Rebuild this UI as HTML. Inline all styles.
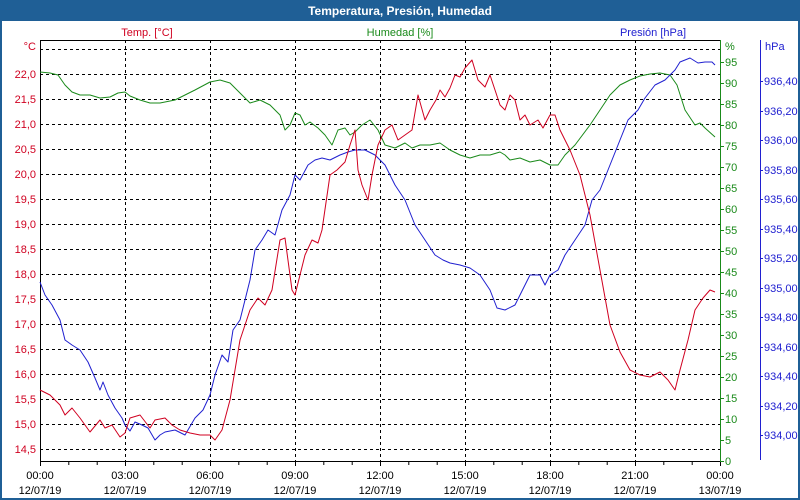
<!DOCTYPE html>
<html><head><meta charset="utf-8"><style>
html,body{margin:0;padding:0;background:#fff}
svg{display:block;font-family:"Liberation Sans","DejaVu Sans",sans-serif}
</style></head><body>
<svg width="800" height="500" xmlns="http://www.w3.org/2000/svg">
<rect x="0" y="0" width="800" height="500" fill="#1f5f96"/>
<rect x="2" y="21" width="796" height="477" fill="#fff"/>
<text x="400" y="15" fill="#fff" font-size="12" font-weight="bold" text-anchor="middle">Temperatura, Presión, Humedad</text>
<text x="147" y="36" fill="#d00020" font-size="11" text-anchor="middle">Temp. [°C]</text>
<text x="400" y="36" fill="#1a8a1a" font-size="11" text-anchor="middle">Humedad [%]</text>
<text x="653" y="36" fill="#2020d0" font-size="11" text-anchor="middle">Presión [hPa]</text>
<g stroke="#000" stroke-dasharray="3,3" stroke-width="1">
<line x1="40" x2="720" y1="49.5" y2="49.5"/><line x1="40" x2="720" y1="74.5" y2="74.5"/><line x1="40" x2="720" y1="99.5" y2="99.5"/><line x1="40" x2="720" y1="124.5" y2="124.5"/><line x1="40" x2="720" y1="149.5" y2="149.5"/><line x1="40" x2="720" y1="174.5" y2="174.5"/><line x1="40" x2="720" y1="199.5" y2="199.5"/><line x1="40" x2="720" y1="224.5" y2="224.5"/><line x1="40" x2="720" y1="249.5" y2="249.5"/><line x1="40" x2="720" y1="274.5" y2="274.5"/><line x1="40" x2="720" y1="299.5" y2="299.5"/><line x1="40" x2="720" y1="324.5" y2="324.5"/><line x1="40" x2="720" y1="349.5" y2="349.5"/><line x1="40" x2="720" y1="374.5" y2="374.5"/><line x1="40" x2="720" y1="399.5" y2="399.5"/><line x1="40" x2="720" y1="424.5" y2="424.5"/><line x1="40" x2="720" y1="449.5" y2="449.5"/>
<line x1="125.5" x2="125.5" y1="40" y2="461"/><line x1="210.5" x2="210.5" y1="40" y2="461"/><line x1="295.5" x2="295.5" y1="40" y2="461"/><line x1="380.5" x2="380.5" y1="40" y2="461"/><line x1="465.5" x2="465.5" y1="40" y2="461"/><line x1="550.5" x2="550.5" y1="40" y2="461"/><line x1="635.5" x2="635.5" y1="40" y2="461"/>
</g>
<g stroke="#000"><line x1="40.5" y1="40" x2="40.5" y2="461"/><line x1="40" y1="40.5" x2="720" y2="40.5"/><line x1="40" y1="461.5" x2="720" y2="461.5"/>
<path d="M40.5 461v5M68.8 461v4M97.2 461v4M125.5 461v5M153.8 461v4M182.2 461v4M210.5 461v5M238.8 461v4M267.2 461v4M295.5 461v5M323.8 461v4M352.2 461v4M380.5 461v5M408.8 461v4M437.2 461v4M465.5 461v5M493.8 461v4M522.2 461v4M550.5 461v5M578.8 461v4M607.2 461v4M635.5 461v5M663.8 461v4M692.2 461v4M720.5 461v5"/></g>
<line x1="720.5" y1="40" x2="720.5" y2="462" stroke="#1a8a1a"/>
<path stroke="#1a8a1a" d="M720 461.5h4M720 440.5h4M720 419.5h4M720 398.5h4M720 377.5h4M720 356.5h4M720 335.5h4M720 314.5h4M720 293.5h4M720 272.5h4M720 251.5h4M720 230.5h4M720 209.5h4M720 188.5h4M720 167.5h4M720 146.5h4M720 125.5h4M720 104.5h4M720 83.5h4M720 62.5h4"/>
<line x1="760.5" y1="40" x2="760.5" y2="460" stroke="#2020d0"/>
<path stroke="#2020d0" d="M760 435.5h3M760 406.5h3M760 376.5h3M760 347.5h3M760 317.5h3M760 288.5h3M760 258.5h3M760 229.5h3M760 199.5h3M760 170.5h3M760 140.5h3M760 111.5h3M760 81.5h3"/>
<g fill="#d00020" font-size="11" text-anchor="end">
<text x="36" y="50">°C</text><text x="36" y="78">22,0</text><text x="36" y="103">21,5</text><text x="36" y="128">21,0</text><text x="36" y="153">20,5</text><text x="36" y="178">20,0</text><text x="36" y="203">19,5</text><text x="36" y="228">19,0</text><text x="36" y="253">18,5</text><text x="36" y="278">18,0</text><text x="36" y="303">17,5</text><text x="36" y="328">17,0</text><text x="36" y="353">16,5</text><text x="36" y="378">16,0</text><text x="36" y="403">15,5</text><text x="36" y="428">15,0</text><text x="36" y="453">14,5</text></g>
<g fill="#1a8a1a" font-size="11">
<text x="725" y="50">%</text><text x="725" y="66">95</text><text x="725" y="87">90</text><text x="725" y="108">85</text><text x="725" y="129">80</text><text x="725" y="150">75</text><text x="725" y="171">70</text><text x="725" y="192">65</text><text x="725" y="213">60</text><text x="725" y="234">55</text><text x="725" y="255">50</text><text x="725" y="276">45</text><text x="725" y="297">40</text><text x="725" y="318">35</text><text x="725" y="339">30</text><text x="725" y="360">25</text><text x="725" y="381">20</text><text x="725" y="402">15</text><text x="725" y="423">10</text><text x="725" y="444">5</text><text x="725" y="465">0</text></g>
<g fill="#2020d0" font-size="11">
<text x="765" y="50">hPa</text><text x="764" y="85">936,40</text><text x="764" y="115">936,20</text><text x="764" y="144">936,00</text><text x="764" y="174">935,80</text><text x="764" y="203">935,60</text><text x="764" y="233">935,40</text><text x="764" y="262">935,20</text><text x="764" y="292">935,00</text><text x="764" y="321">934,80</text><text x="764" y="351">934,60</text><text x="764" y="380">934,40</text><text x="764" y="410">934,20</text><text x="764" y="439">934,00</text></g>
<g fill="#000" font-size="11" text-anchor="middle">
<text x="40" y="479">00:00</text><text x="40" y="494">12/07/19</text>
<text x="125" y="479">03:00</text><text x="125" y="494">12/07/19</text>
<text x="210" y="479">06:00</text><text x="210" y="494">12/07/19</text>
<text x="295" y="479">09:00</text><text x="295" y="494">12/07/19</text>
<text x="380" y="479">12:00</text><text x="380" y="494">12/07/19</text>
<text x="465" y="479">15:00</text><text x="465" y="494">12/07/19</text>
<text x="550" y="479">18:00</text><text x="550" y="494">12/07/19</text>
<text x="635" y="479">21:00</text><text x="635" y="494">12/07/19</text>
<text x="720" y="479">00:00</text><text x="720" y="494">13/07/19</text></g>
<g fill="none" stroke-width="1" stroke-linejoin="round">
<polyline stroke="#1a8a1a" points="40,72 50,73 58,75 65,85 72,92 80,95 90,95 100,98 110,97 118,93 125,92 130,96 140,100 150,103 160,103 175,100 185,95 195,90 210,82 220,80 230,83 240,93 250,103 260,100 270,105 280,115 285,130 290,125 295,113 300,115 305,125 310,122 318,128 325,135 332,145 338,130 345,128 350,135 355,132 362,125 370,120 378,130 385,145 395,148 405,143 412,148 420,145 430,145 440,143 450,150 460,155 470,158 480,155 490,155 500,152 505,155 510,160 520,158 530,162 540,160 550,165 558,165 565,155 575,145 590,125 600,110 610,95 620,85 630,80 640,76 650,74 660,73 670,75 677,85 685,110 695,125 700,123 705,128 715,137"/>
<polyline stroke="#2020d0" points="40,282 45,295 52,305 60,320 65,340 72,345 80,350 88,362 95,378 100,390 103,382 108,395 115,408 122,418 125,425 130,431 135,422 142,425 148,428 155,440 160,435 165,432 175,430 185,435 195,418 203,410 210,395 215,375 222,355 228,362 233,330 240,320 245,300 250,280 255,250 262,240 268,230 275,235 282,210 290,195 295,175 300,180 308,165 315,160 322,158 330,160 340,155 348,152 355,150 365,150 375,155 385,165 395,185 405,200 415,225 425,240 435,255 443,260 450,263 460,265 470,268 480,275 490,290 497,308 505,310 515,305 520,295 525,285 530,275 540,275 545,285 550,275 558,270 565,255 575,240 585,225 592,200 600,190 610,165 620,140 628,120 638,110 645,98 655,85 665,80 675,70 680,62 690,58 698,63 705,62 712,62 715,65"/>
<polyline stroke="#d00020" points="40,390 50,395 60,405 65,415 72,408 80,418 90,432 100,420 105,428 112,425 120,437 125,433 130,418 140,415 150,428 155,420 165,418 172,425 180,430 190,433 200,435 210,435 215,440 222,430 230,400 240,340 250,310 258,298 265,305 272,290 280,240 285,238 292,290 295,295 305,255 312,240 318,243 322,230 330,175 337,170 345,162 350,145 355,130 358,170 362,185 368,200 372,175 378,145 385,130 392,125 398,140 405,135 412,130 418,95 425,120 430,110 436,100 440,90 445,97 450,88 455,75 460,77 465,68 472,60 478,80 485,87 490,75 495,90 500,105 505,110 510,95 515,100 520,120 525,115 530,125 538,120 543,128 550,115 555,115 560,130 570,150 580,175 590,215 600,270 610,325 620,352 630,370 640,375 650,377 660,372 668,380 675,390 680,370 688,340 695,310 703,298 710,290 715,292"/>
</g>
</svg>
</body></html>
